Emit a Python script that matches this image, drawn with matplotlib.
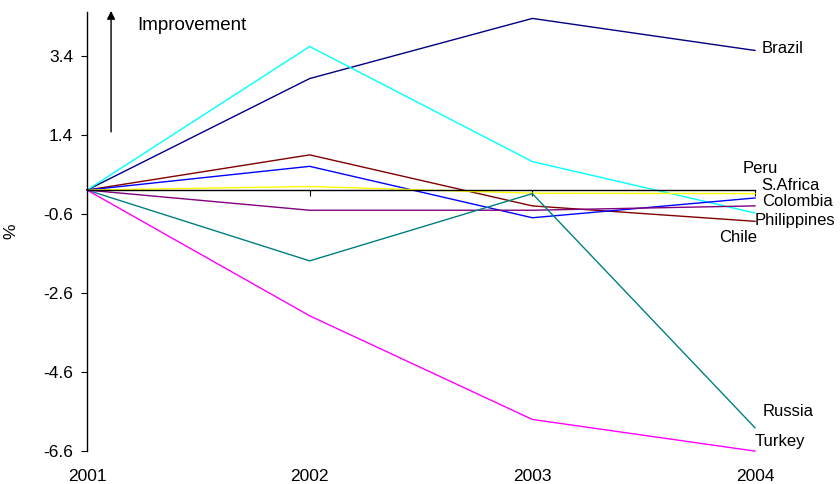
import numpy as np
import matplotlib.pyplot as plt

plt.rcParams['font.family'] = ['Liberation Sans', 'DejaVu Sans']

years = ['2001', '2002', '2003', '2004']

# change vs 2001, %
brazil = [0, 2.82, 4.34, 3.53]
philippines = [0, 3.63, 0.72, -0.58]
chile = [0, 0.89, -0.40, -0.79]
colombia = [0, 0.60, -0.70, -0.20]
peru = [0, 0.09, -0.08, -0.09]
safrica = [0, -0.51, -0.51, -0.40]
russia = [0, -1.79, -0.09, -6.01]
turkey = [0, -3.18, -5.80, -6.60]

series = [brazil, philippines, chile, colombia, peru, safrica, russia, turkey]
colors = ['#000080', '#00FFFF', '#800000', '#0000FF', '#FFFF00', '#800080', '#008080', '#FF00FF']

names = ['Brazil', 'Peru', 'S.Africa', 'Colombia', 'Philippines', 'Chile', 'Russia', 'Turkey']
name_x = [3.03, 2.946, 3.03, 3.03, 3.0, 2.838, 3.036, 3.0]
name_y = [3.59, 0.555, 0.125, -0.30, -0.76, -1.19, -5.59, -6.35]

yticks = [-6.6, -4.6, -2.6, -0.6, 1.4, 3.4]

fig = plt.figure(figsize=(8.4, 4.84), dpi=100)
ax = fig.add_axes([0.1036, 0.068, 0.7952, 0.907])

x = np.arange(len(years))
for s, c in zip(series, colors):
    ax.plot(x, s, color=c, lw=1.0, clip_on=False)

ax.set_xlim(0, 3)
ax.set_ylim(-6.6, 4.5)

ax.spines['top'].set_visible(False)
ax.spines['right'].set_visible(False)
ax.spines['bottom'].set_position(('data', 0))
ax.spines['bottom'].set_bounds(0, 3)
ax.spines['left'].set_linewidth(1.0)
ax.spines['bottom'].set_linewidth(1.0)
ax.set_xticks([1, 2, 3])
ax.tick_params(axis='x', direction='out', length=4, labelbottom=False)
ax.set_yticks(yticks)
ax.set_yticklabels([str(t) for t in yticks])
ax.tick_params(axis='y', direction='out', length=4, labelsize=12.5, pad=6)

for i, yr in enumerate(years):
    ax.text(i, -0.057, yr, transform=ax.get_xaxis_transform(), ha='center', va='center', fontsize=12.5)

for n, tx, ty in zip(names, name_x, name_y):
    ax.text(tx, ty, n, ha='left', va='center', fontsize=12, clip_on=False)

ax.annotate('', xy=(0.108, 4.6), xytext=(0.108, 1.4),
            arrowprops=dict(arrowstyle='-|>', color='black', lw=1.0, mutation_scale=12),
            annotation_clip=False)
ax.text(0.225, 4.17, 'Improvement', ha='left', va='center', fontsize=13.5)

ax.set_ylabel('%', fontsize=12.5)
ax.yaxis.set_label_coords(-0.103, 0.50)

fig.savefig('out.png', dpi=100)
